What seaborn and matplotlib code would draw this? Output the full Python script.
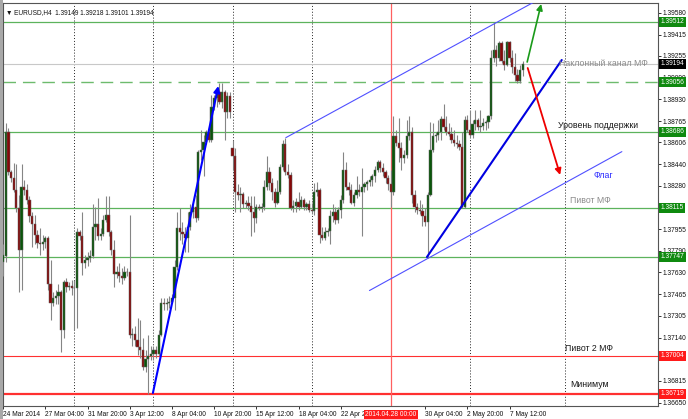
import matplotlib
matplotlib.use("Agg")
import matplotlib.pyplot as plt
import matplotlib.transforms as mtrans
from matplotlib.patches import Rectangle
import numpy as np
import pandas as pd
import seaborn as sns

# ---------------- data ----------------
first_bar = 3  # index of first visible H4 bar (bar 0 = 24 Mar 2014 00:00)

opens = [1.3771, 1.3775, 1.3868, 1.3838, 1.3834, 1.3825, 1.3811, 1.3780, 1.3827, 1.3825,
         1.3817, 1.3805, 1.3799, 1.3791, 1.3785, 1.3784, 1.3786, 1.3789, 1.3754, 1.3740,
         1.3744, 1.3745, 1.3748, 1.3720, 1.3756, 1.3752, 1.3753, 1.3751, 1.3751, 1.3793,
         1.3790, 1.3770, 1.3772, 1.3774, 1.3775, 1.3797, 1.3799, 1.3790, 1.3792, 1.3802,
         1.3806, 1.3793, 1.3780, 1.3762, 1.3763, 1.3760, 1.3759, 1.3763, 1.3763, 1.3716,
         1.3717, 1.3712, 1.3707, 1.3705, 1.3692, 1.3698, 1.3700, 1.3702, 1.3705, 1.3702,
         1.3716, 1.3740, 1.3739, 1.3740, 1.3741, 1.3744, 1.3767, 1.3796, 1.3793, 1.3792,
         1.3789, 1.3797, 1.3808, 1.3812, 1.3804, 1.3853, 1.3855, 1.3861, 1.3868, 1.3862,
         1.3887, 1.3894, 1.3898, 1.3891, 1.3898, 1.3883, 1.3895, 1.3856, 1.3850, 1.3823,
         1.3821, 1.3822, 1.3814, 1.3815, 1.3813, 1.3808, 1.3804, 1.3812, 1.3811, 1.3812,
         1.3827, 1.3838, 1.3830, 1.3823, 1.3815, 1.3823, 1.3842, 1.3859, 1.3838, 1.3836,
         1.3811, 1.3813, 1.3816, 1.3812, 1.3817, 1.3812, 1.3814, 1.3810, 1.3809, 1.3823,
         1.3825, 1.3791, 1.3789, 1.3793, 1.3794, 1.3805, 1.3808, 1.3802, 1.3810, 1.3817,
         1.3840, 1.3827, 1.3825, 1.3815, 1.3821, 1.3825, 1.3823, 1.3827, 1.3829, 1.3831,
         1.3832, 1.3835, 1.3840, 1.3846, 1.3841, 1.3838, 1.3834, 1.3829, 1.3823, 1.3865,
         1.3860, 1.3856, 1.3849, 1.3851, 1.3865, 1.3868, 1.3821, 1.3812, 1.3810, 1.3809,
         1.3805, 1.3801, 1.3821, 1.3855, 1.3865, 1.3866, 1.3868, 1.3878, 1.3872, 1.3868,
         1.3867, 1.3862, 1.3860, 1.3859, 1.3857, 1.3812, 1.3877, 1.3870, 1.3866, 1.3874,
         1.3877, 1.3872, 1.3873, 1.3875, 1.3876, 1.3880, 1.3924, 1.3930, 1.3924, 1.3935,
         1.3922, 1.3919, 1.3936, 1.3924, 1.3917, 1.3911, 1.3907, 1.39149]
highs = [1.3784, 1.3875, 1.3871, 1.3840, 1.3845, 1.3844, 1.3821, 1.3844, 1.3832, 1.3829,
         1.3820, 1.3808, 1.3806, 1.3795, 1.3796, 1.3791, 1.3790, 1.3790, 1.3772, 1.3748,
         1.3750, 1.3754, 1.3750, 1.3757, 1.3759, 1.3756, 1.3757, 1.3757, 1.3796, 1.3795,
         1.3808, 1.3776, 1.3778, 1.3780, 1.3814, 1.3812, 1.3819, 1.3796, 1.3806, 1.3820,
         1.3820, 1.3795, 1.3787, 1.3768, 1.3770, 1.3766, 1.3768, 1.3766, 1.3806, 1.3721,
         1.3723, 1.3729, 1.3727, 1.3714, 1.3705, 1.3716, 1.3708, 1.3708, 1.3708, 1.3720,
         1.3744, 1.3744, 1.3744, 1.3745, 1.3747, 1.3772, 1.3808, 1.3811, 1.3801, 1.3797,
         1.3808, 1.3814, 1.3814, 1.3821, 1.3855, 1.3870, 1.3866, 1.3870, 1.3871, 1.3896,
         1.3896, 1.3901, 1.3905, 1.3905, 1.3900, 1.3898, 1.3898, 1.3862, 1.3856, 1.3829,
         1.3827, 1.3823, 1.3817, 1.3820, 1.3820, 1.3820, 1.3814, 1.3814, 1.3815, 1.3832,
         1.3850, 1.3842, 1.3834, 1.3826, 1.3832, 1.3844, 1.3862, 1.3864, 1.3844, 1.3838,
         1.3817, 1.3819, 1.3823, 1.3820, 1.3819, 1.3816, 1.3817, 1.3815, 1.3830, 1.3831,
         1.3826, 1.3797, 1.3797, 1.3796, 1.3810, 1.3814, 1.3812, 1.3812, 1.3821, 1.3853,
         1.3846, 1.3831, 1.3829, 1.3823, 1.3835, 1.3829, 1.3841, 1.3831, 1.3832, 1.3835,
         1.3837, 1.3843, 1.3847, 1.3847, 1.3845, 1.3840, 1.3836, 1.3840, 1.3880, 1.3870,
         1.3879, 1.3861, 1.3855, 1.3877, 1.3880, 1.3872, 1.3825, 1.3815, 1.3817, 1.3814,
         1.3811, 1.3823, 1.3876, 1.3875, 1.3868, 1.3877, 1.3880, 1.3889, 1.3880, 1.3875,
         1.3872, 1.3870, 1.3866, 1.3862, 1.3868, 1.3880, 1.3881, 1.3885, 1.3877, 1.3885,
         1.3879, 1.3885, 1.3879, 1.3877, 1.3881, 1.3930, 1.39512, 1.3934, 1.3937, 1.3937,
         1.3930, 1.3937, 1.3937, 1.3930, 1.3928, 1.3916, 1.3919, 1.39218]
lows = [1.3760, 1.3771, 1.3836, 1.3831, 1.3823, 1.3808, 1.3748, 1.3750, 1.3821, 1.3814,
        1.3801, 1.3782, 1.3784, 1.3781, 1.3776, 1.3780, 1.3781, 1.3750, 1.3727, 1.3738,
        1.3739, 1.3739, 1.3703, 1.3714, 1.3748, 1.3750, 1.3746, 1.3720, 1.3721, 1.3787,
        1.3761, 1.3766, 1.3768, 1.3771, 1.3774, 1.3787, 1.3787, 1.3787, 1.3790, 1.3801,
        1.3790, 1.3776, 1.3752, 1.3759, 1.3756, 1.3754, 1.3757, 1.3760, 1.3714, 1.3708,
        1.3708, 1.3701, 1.3699, 1.3690, 1.3688, 1.36719, 1.3697, 1.3697, 1.3699, 1.3700,
        1.3715, 1.3735, 1.3735, 1.3736, 1.3740, 1.3735, 1.3765, 1.3787, 1.3784, 1.3778,
        1.3778, 1.3795, 1.3804, 1.3801, 1.3802, 1.3847, 1.3835, 1.3859, 1.3861, 1.3861,
        1.3885, 1.3887, 1.3889, 1.3886, 1.3862, 1.3879, 1.3879, 1.3840, 1.3808, 1.3817,
        1.3808, 1.3811, 1.3811, 1.3810, 1.3790, 1.3793, 1.3800, 1.3810, 1.3808, 1.3810,
        1.3825, 1.3825, 1.3817, 1.3812, 1.3814, 1.3822, 1.3840, 1.3836, 1.3834, 1.3810,
        1.3808, 1.3808, 1.3810, 1.3811, 1.3810, 1.3810, 1.3808, 1.3807, 1.3806, 1.3820,
        1.3785, 1.3787, 1.3787, 1.3790, 1.3784, 1.3801, 1.3799, 1.3800, 1.3804, 1.3815,
        1.3825, 1.3821, 1.3814, 1.3813, 1.3819, 1.3820, 1.3790, 1.3823, 1.3825, 1.3828,
        1.3828, 1.3831, 1.3838, 1.3838, 1.3835, 1.3830, 1.3825, 1.3812, 1.3821, 1.3858,
        1.3846, 1.3840, 1.3845, 1.3849, 1.3862, 1.3815, 1.3808, 1.3807, 1.3807, 1.3798,
        1.3798, 1.3774, 1.3820, 1.3853, 1.3861, 1.3862, 1.3862, 1.3870, 1.3866, 1.3865,
        1.3860, 1.3858, 1.3856, 1.3855, 1.3811, 1.3811, 1.3868, 1.3864, 1.3864, 1.3870,
        1.3870, 1.3868, 1.3870, 1.3870, 1.3871, 1.3878, 1.3921, 1.3918, 1.3922, 1.3920,
        1.3915, 1.3918, 1.3921, 1.3913, 1.3907, 1.3905, 1.3905, 1.39101]
closes = [1.3776, 1.3868, 1.3838, 1.3834, 1.3825, 1.3811, 1.3780, 1.3827, 1.3825, 1.3817,
          1.3805, 1.3799, 1.3791, 1.3785, 1.3784, 1.3786, 1.3789, 1.3754, 1.3740, 1.3744,
          1.3745, 1.3748, 1.3720, 1.3756, 1.3752, 1.3753, 1.3751, 1.3751, 1.3793, 1.3790,
          1.3770, 1.3772, 1.3774, 1.3775, 1.3797, 1.3799, 1.3790, 1.3792, 1.3802, 1.3806,
          1.3793, 1.3780, 1.3762, 1.3763, 1.3760, 1.3759, 1.3763, 1.3763, 1.3716, 1.3717,
          1.3712, 1.3707, 1.3705, 1.3692, 1.3698, 1.3700, 1.3702, 1.3705, 1.3702, 1.3716,
          1.3740, 1.3739, 1.3740, 1.3741, 1.3744, 1.3767, 1.3796, 1.3793, 1.3792, 1.3789,
          1.3797, 1.3808, 1.3812, 1.3804, 1.3853, 1.3855, 1.3861, 1.3868, 1.3862, 1.3887,
          1.3894, 1.3898, 1.3891, 1.3898, 1.3883, 1.3895, 1.3883, 1.3850, 1.3823, 1.3821,
          1.3822, 1.3814, 1.3815, 1.3813, 1.3808, 1.3804, 1.3812, 1.3811, 1.3812, 1.3827,
          1.3838, 1.3830, 1.3823, 1.3815, 1.3823, 1.3842, 1.3859, 1.3838, 1.3836, 1.3811,
          1.3813, 1.3816, 1.3812, 1.3817, 1.3812, 1.3814, 1.3810, 1.3809, 1.3823, 1.3825,
          1.3791, 1.3789, 1.3793, 1.3794, 1.3805, 1.3808, 1.3802, 1.3810, 1.3817, 1.3840,
          1.3827, 1.3825, 1.3815, 1.3821, 1.3825, 1.3823, 1.3827, 1.3829, 1.3831, 1.3832,
          1.3835, 1.3840, 1.3846, 1.3841, 1.3838, 1.3834, 1.3829, 1.3823, 1.3865, 1.3860,
          1.3856, 1.3849, 1.3851, 1.3865, 1.3868, 1.3821, 1.3812, 1.3810, 1.3809, 1.3805,
          1.3801, 1.3821, 1.3855, 1.3865, 1.3866, 1.3868, 1.3878, 1.3872, 1.3868, 1.3867,
          1.3862, 1.3860, 1.3859, 1.3857, 1.3812, 1.3877, 1.3870, 1.3866, 1.3874, 1.3877,
          1.3872, 1.3873, 1.3875, 1.3876, 1.3880, 1.3924, 1.3930, 1.3924, 1.3935, 1.3922,
          1.3919, 1.3936, 1.3924, 1.3917, 1.3911, 1.3907, 1.39149, 1.39194]

header_text = "EURUSD,H4  1.39149 1.39218 1.39101 1.39194"

green_levels = [1.39512, 1.39056, 1.38686, 1.38115, 1.37747]
green_dashed = [False, True, False, False, False]
red_levels = [1.37004, 1.36719]
red_widths = [0.8, 1.6]
last_price = 1.39194

ytick_values = [1.39580, 1.39415, 1.39255, 1.39090, 1.38930, 1.38765, 1.38606, 1.38440,
                1.38280, 1.37955, 1.37790, 1.37630, 1.37465, 1.37305, 1.37140,
                1.36815, 1.36650]
xtick_bars = [3, 19, 35, 51, 67, 83, 99, 115, 131, 163, 179, 195]
xtick_labels = ["24 Mar 2014", "27 Mar 04:00", "31 Mar 20:00", "3 Apr 12:00", "8 Apr 04:00",
                "10 Apr 20:00", "15 Apr 12:00", "18 Apr 04:00", "22 Apr 20:00",
                "30 Apr 04:00", "2 May 20:00", "7 May 12:00"]
week_bars = [30, 60, 90, 120, 180, 216]
marker_bar = 150
marker_label = "2014.04.28 00:00"

# analyst's drawings: (bar, price) endpoints
channel_upper = [(110.2, 1.38641), (204.0, 1.39656)]
channel_lower = [(141.9, 1.37493), (237.6, 1.38536)]
rise_arrow = [(59.8, 1.36724), (84.6, 1.39029)]
flag_support = [(163.7, 1.37745), (214.8, 1.39224)]
green_arrow = [(201.7, 1.39209), (207.0, 1.39645)]
red_arrow = [(201.9, 1.39164), (214.2, 1.38361)]

notes = [("Наклонный канал МФ", 213.6, 1.39194, "#8c8c8c"),
         ("Уровень поддержки", 213.4, 1.38729, "#1a1a1a"),
         ("Флаг", 226.7, 1.38353, "#2a2aff"),
         ("Пивот МФ", 218.0, 1.38166, "#8c8c8c"),
         ("Пивот 2 МФ", 216.1, 1.37054, "#1a1a1a"),
         ("Минимум", 218.0, 1.36791, "#1a1a1a")]

# ---------------- drawing ----------------
sns.set_theme(style="white")
plt.rcParams["font.family"] = ["Liberation Sans", "DejaVu Sans"]

W, H = 688, 419
fig = plt.figure(figsize=(W / 100, H / 100), dpi=100)
fig.patch.set_facecolor("white")
ax = fig.add_axes([3 / W, 13 / H, 655 / W, 403 / H])
ax.set_facecolor("white")

x = np.arange(first_bar, first_bar + len(opens))
o = np.array(opens); h = np.array(highs); l = np.array(lows); c = np.array(closes)

# horizontal levels
for lev, dashed in zip(green_levels, green_dashed):
    if dashed:
        ax.axhline(lev, color="#6dbb6d", lw=1.0, ls=(0, (9, 5)), zorder=2)
    else:
        ax.axhline(lev, color="#5cb35c", lw=0.9, zorder=2)
ax.axhline(last_price, color="#c8c8c8", lw=0.8, zorder=2)
for lev, lw in zip(red_levels, red_widths):
    ax.axhline(lev, color="#ff3030", lw=lw, zorder=2)

# week separators and date marker
for wb in week_bars:
    ax.axvline(wb, color="#222222", lw=0.7, ls=(0, (1, 2)), zorder=1)
ax.axvline(marker_bar, color="#ff6060", lw=0.9, zorder=2)

# candles
ax.vlines(x, l, h, color="#858585", lw=0.8, zorder=3)
up = c >= o
dn = ~up
ax.bar(x[up], (c - o)[up], bottom=o[up], width=0.85, color="#0a560a",
       edgecolor="#606060", linewidth=0.35, zorder=4)
ax.bar(x[dn], (c - o)[dn], bottom=o[dn], width=0.85, color="#870808",
       edgecolor="#606060", linewidth=0.35, zorder=4)

# channel / flag lines
for seg, col, lw in [(channel_upper, "#5050ff", 0.8), (channel_lower, "#5050ff", 0.8),
                     (flag_support, "#0000e0", 1.5)]:
    df = pd.DataFrame(seg, columns=["bar", "price"])
    sns.lineplot(data=df, x="bar", y="price", ax=ax, color=col, lw=lw,
                 sort=False, estimator=None, zorder=5)

# arrows
for seg, col, lw in [(rise_arrow, "#0000ff", 1.5), (green_arrow, "#1a9a1a", 1.2),
                     (red_arrow, "#ee0000", 1.3)]:
    ax.annotate("", xy=seg[1], xytext=seg[0],
                arrowprops=dict(arrowstyle="-|>", color=col, lw=lw,
                                mutation_scale=9, shrinkA=0, shrinkB=0),
                zorder=6, annotation_clip=False)

for txt, bx, py, col in notes:
    ax.text(bx, py, txt, color=col, fontsize=6.3, ha="left", va="center", zorder=7)

# axes limits / ticks
ax.set_xlim(2.96, 251.3)
ax.set_ylim(1.36626, 1.39652)
ax.yaxis.tick_right()
ax.set_yticks(ytick_values)
ax.set_yticklabels([f"{v:.5f}" for v in ytick_values])
ax.set_xticks(xtick_bars)
ax.set_xticklabels(xtick_labels, ha="left")
ax.tick_params(axis="y", right=True, length=2, width=0.6, pad=1.0,
               labelsize=4.8, colors="#111111")
ax.tick_params(axis="x", bottom=True, length=2.5, width=0.6, pad=0.8,
               labelsize=4.8, colors="#111111")
ax.set_xlabel(""); ax.set_ylabel("")
for s in ax.spines.values():
    s.set_color("#555555"); s.set_linewidth(0.8)
ax.grid(False)

# price labels on the right scale
btr = mtrans.blended_transform_factory(ax.transAxes, ax.transData)
boxes = [(lev, "#0f8a0f") for lev in green_levels] + [(last_price, "#000000")] + \
        [(lev, "#ff1a1a") for lev in red_levels]
for lev, col in boxes:
    ax.text(1.0035, lev, f"{lev:.5f}", transform=btr, ha="left", va="center",
            color="white", fontsize=4.8, clip_on=False, zorder=10,
            bbox=dict(boxstyle="square,pad=0.22", fc=col, ec="none"))

# date marker label under the axis
bt2 = mtrans.blended_transform_factory(ax.transData, ax.transAxes)
ax.text(marker_bar, -0.0135, marker_label, transform=bt2, ha="center", va="top",
        color="white", fontsize=4.8, clip_on=False, zorder=10,
        bbox=dict(boxstyle="square,pad=0.2", fc="#ff1a1a", ec="none"))

# header
ax.text(0.005, 0.985, "\u25bc " + header_text, transform=ax.transAxes, ha="left", va="top",
        fontsize=4.7, color="#111111", zorder=10)

# window frame strip on the left
fig.patches.append(Rectangle((0, 0), 3 / W, 1, transform=fig.transFigure,
                             fc="#a8a8a8", ec="none"))

fig.savefig("out.png", dpi=100, facecolor="white")
